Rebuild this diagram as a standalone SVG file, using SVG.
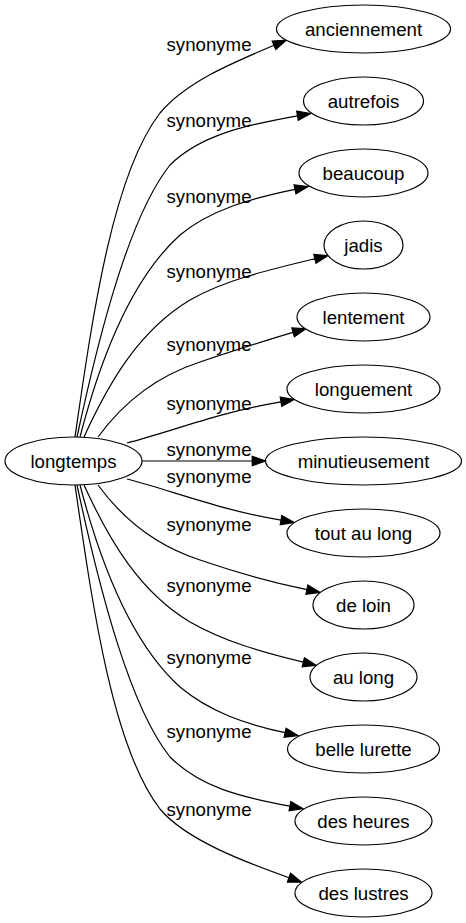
<svg xmlns="http://www.w3.org/2000/svg" width="466" height="923" viewBox="0 0 466 923">
<style>
.node ellipse{fill:#fff;stroke:#000;stroke-width:1.2}
.node text{font-family:"Liberation Sans",Arial,sans-serif;font-size:18.67px;text-anchor:middle;fill:#000}
.edge path{fill:none;stroke:#000;stroke-width:1.2;marker-end:url(#arr)}
.lbl{font-family:"Liberation Sans",Arial,sans-serif;font-size:18.67px;text-anchor:middle;fill:#000}
</style>
<defs>
<marker id="arr" markerUnits="userSpaceOnUse" markerWidth="16" markerHeight="12" refX="0" refY="6" orient="auto" overflow="visible">
<path d="M0,1.33 L13.3,6 L0,10.67 Z" fill="#000" stroke="#000" stroke-width="1.2"/>
</marker>
</defs>
<rect width="466" height="923" fill="#fff"/>
<g id="edges" class="edge">
<path d="M75,437 C92,320 112,175 160,113 C186,82 232,63 274,45.3"/>
<path d="M77,437 C100,330 130,215 170,165 C200,135 246,125 297.5,115.8"/>
<path d="M80,437 C100,360 130,280 180,235 C210,210 252,198 295,189.3"/>
<path d="M84,437 C110,380 140,330 190,300 C225,280 268,270 314.9,258.8"/>
<path d="M98,437 C125,400 160,375 200,362 C230,352 260,342 293.1,332.4"/>
<path d="M127,443 C170,432 220,412 281,401.8"/>
<path d="M142,461 L252.2,461"/>
<path d="M127,479 C170,490 220,510 281,520.2"/>
<path d="M98,485 C125,522 160,547 200,560 C235,572 270,582 306.9,589.6"/>
<path d="M84,485 C110,542 140,592 190,622 C225,642 262,652 303.3,662.2"/>
<path d="M80,485 C100,562 130,642 180,687 C210,712 245,724 285.1,732.7"/>
<path d="M77,485 C100,592 130,707 170,757 C200,787 240,797 289.9,806.2"/>
<path d="M75,485 C92,602 112,747 160,809 C186,840 245,862 289,877.7"/>
</g>
<g id="labels">
<text class="lbl" x="209" y="51">synonyme</text>
<text class="lbl" x="209" y="127">synonyme</text>
<text class="lbl" x="209" y="203">synonyme</text>
<text class="lbl" x="209" y="278">synonyme</text>
<text class="lbl" x="209" y="351">synonyme</text>
<text class="lbl" x="209" y="410">synonyme</text>
<text class="lbl" x="209" y="456">synonyme</text>
<text class="lbl" x="209" y="483">synonyme</text>
<text class="lbl" x="209" y="531">synonyme</text>
<text class="lbl" x="209" y="592">synonyme</text>
<text class="lbl" x="209" y="664">synonyme</text>
<text class="lbl" x="209" y="738">synonyme</text>
<text class="lbl" x="209" y="816">synonyme</text>
</g>
<g id="n_longtemps" class="node"><ellipse cx="73.5" cy="461" rx="68.5" ry="24"/><text x="73.5" y="467.5">longtemps</text></g>
<g id="n_anciennement" class="node"><ellipse cx="363.5" cy="29" rx="87" ry="24"/><text x="363.5" y="35.5">anciennement</text></g>
<g id="n_autrefois" class="node"><ellipse cx="363.5" cy="101" rx="60" ry="24"/><text x="363.5" y="107.5">autrefois</text></g>
<g id="n_beaucoup" class="node"><ellipse cx="363.5" cy="173" rx="64.5" ry="24"/><text x="363.5" y="179.5">beaucoup</text></g>
<g id="n_jadis" class="node"><ellipse cx="363.5" cy="245" rx="39.5" ry="24"/><text x="363.5" y="251.5">jadis</text></g>
<g id="n_lentement" class="node"><ellipse cx="363.5" cy="317" rx="66.5" ry="24"/><text x="363.5" y="323.5">lentement</text></g>
<g id="n_longuement" class="node"><ellipse cx="363.5" cy="389" rx="76.5" ry="24"/><text x="363.5" y="395.5">longuement</text></g>
<g id="n_minutieusement" class="node"><ellipse cx="363.5" cy="461" rx="98" ry="24"/><text x="363.5" y="467.5">minutieusement</text></g>
<g id="n_toutaulong" class="node"><ellipse cx="363.5" cy="533" rx="76.5" ry="24"/><text x="363.5" y="539.5">tout au long</text></g>
<g id="n_deloin" class="node"><ellipse cx="363.5" cy="605" rx="50.5" ry="24"/><text x="363.5" y="611.5">de loin</text></g>
<g id="n_aulong" class="node"><ellipse cx="363.5" cy="677" rx="53.5" ry="24"/><text x="363.5" y="683.5">au long</text></g>
<g id="n_bellelurette" class="node"><ellipse cx="363.5" cy="749" rx="76" ry="24"/><text x="363.5" y="755.5">belle lurette</text></g>
<g id="n_desheures" class="node"><ellipse cx="363.5" cy="821" rx="68.5" ry="24"/><text x="363.5" y="827.5">des heures</text></g>
<g id="n_deslustres" class="node"><ellipse cx="363.5" cy="893" rx="68.5" ry="24"/><text x="363.5" y="899.5">des lustres</text></g>
</svg>
